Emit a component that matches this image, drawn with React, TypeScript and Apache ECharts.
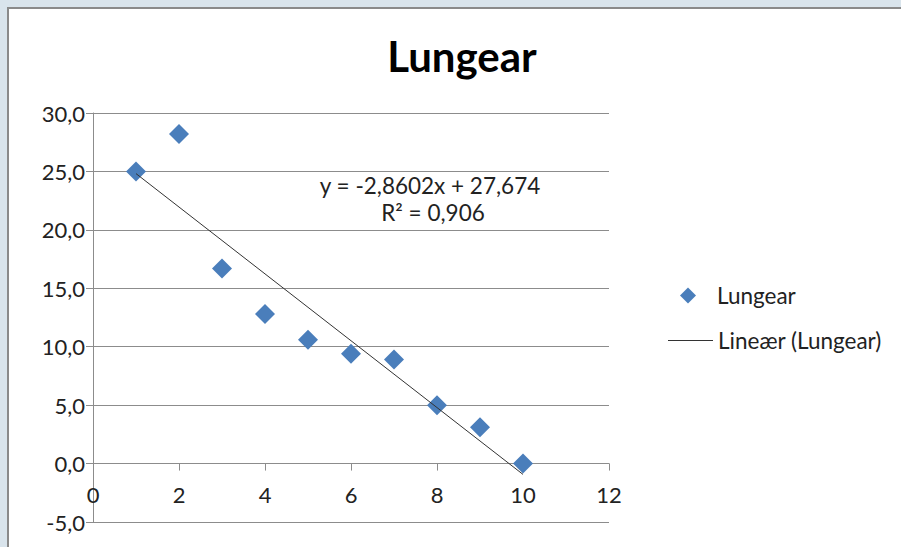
import React, { useEffect, useRef } from "react";
import * as echarts from "echarts";

const TITLE = "Lungear";
const SERIES_NAME = "Lungear";
const TREND_NAME = "Lineær (Lungear)";
const xValues = [1, 2, 3, 4, 5, 6, 7, 8, 9, 10];
const yValues = [25.0, 28.2, 16.7, 12.8, 10.6, 9.4, 8.9, 5.0, 3.1, 0.0];
const trendSlope = -2.8602;
const trendIntercept = 27.674;
const equationText = "y = -2,8602x + 27,674";
const r2Text = "R² = 0,906";
const trendRange = [1, 10];

const FONT = "Lato, 'Open Sans', sans-serif";

export default function App() {
  const ref = useRef<HTMLDivElement>(null);
  useEffect(() => {
    document.body.style.margin = "0";
    if (!ref.current) return;
    const chart = echarts.init(ref.current, null, { renderer: "svg" });
    const points = xValues.map((x, i) => [x, yValues[i]]);
    const trend = trendRange.map((x) => [x, trendIntercept + trendSlope * x]);
    const fmt = (v: number) => v.toFixed(1).replace(".", ",");
    const gridTop = 113;
    const gridBottom = 25;
    const yMin = -5;
    const yMax = 30;
    const gridH = 547 - gridTop - gridBottom;
    const zeroOffset = -((0 - yMin) / (yMax - yMin)) * gridH;
    chart.setOption({
      animation: false,
      backgroundColor: "#d9e4ec",
      textStyle: { fontFamily: FONT },
      title: {
        text: TITLE,
        left: 457,
        top: 30,
        textAlign: "center",
        textStyle: { fontFamily: FONT, fontSize: 42, fontWeight: "bold", color: "#000" },
      },
      graphic: [
        {
          type: "rect",
          z: -10,
          shape: { x: 8, y: 8, width: 920, height: 560 },
          style: { fill: "#ffffff", stroke: "#8a8a8a", lineWidth: 2 },
        },
        {
          type: "text",
          x: 430,
          y: 185,
          style: { text: equationText, fill: "#222", font: `22.5px ${FONT}`, align: "center", verticalAlign: "middle" },
        },
        {
          type: "text",
          x: 433,
          y: 212,
          style: { text: r2Text, fill: "#222", font: `22.5px ${FONT}`, align: "center", verticalAlign: "middle" },
        },
      ],
      legend: [
        {
          data: [SERIES_NAME],
          left: 675,
          top: 279,
          icon: "diamond",
          itemWidth: 16,
          itemHeight: 16,
          textStyle: { fontFamily: FONT, fontSize: 22.5, color: "#222", padding: [0, 0, 0, 16] },
        },
        {
          data: [{ name: TREND_NAME, icon: "rect", itemStyle: { color: "#333" } }],
          left: 663,
          top: 324,
          itemWidth: 45,
          itemHeight: 1,
          textStyle: { fontFamily: FONT, fontSize: 22.5, color: "#222" },
        },
      ],
      grid: { left: 93, right: 292, top: gridTop, bottom: gridBottom, outerBoundsMode: "none", containLabel: false },
      xAxis: {
        type: "value",
        min: 0,
        max: 12,
        interval: 2,
        position: "bottom",
        offset: zeroOffset,
        axisLine: { onZero: false, lineStyle: { color: "#8c8c8c", width: 1 } },
        axisTick: { show: true, inside: false, length: 7, lineStyle: { color: "#8c8c8c" } },
        axisLabel: { fontFamily: FONT, fontSize: 22, color: "#222", margin: 20 },
        splitLine: { show: false },
      },
      yAxis: {
        type: "value",
        min: yMin,
        max: yMax,
        interval: 5,
        axisLine: { show: true, onZero: false, lineStyle: { color: "#8c8c8c", width: 1 } },
        axisTick: { show: true, inside: false, length: 7, lineStyle: { color: "#8c8c8c" } },
        axisLabel: { fontFamily: FONT, fontSize: 22, color: "#222", margin: 8, formatter: fmt },
        splitLine: { show: true, lineStyle: { color: "#8c8c8c", width: 1 } },
      },
      series: [
        {
          name: SERIES_NAME,
          type: "scatter",
          data: points,
          symbol: "diamond",
          symbolSize: 20,
          itemStyle: { color: "#4a7ebb", opacity: 1 },
          z: 2,
        },
        {
          name: TREND_NAME,
          type: "line",
          data: trend,
          showSymbol: false,
          symbol: "none",
          lineStyle: { color: "#333", width: 1 },
          itemStyle: { color: "#333" },
          z: 3,
        },
      ],
    });
    return () => chart.dispose();
  }, []);
  return <div ref={ref} style={{ width: 901, height: 547 }} />;
}
